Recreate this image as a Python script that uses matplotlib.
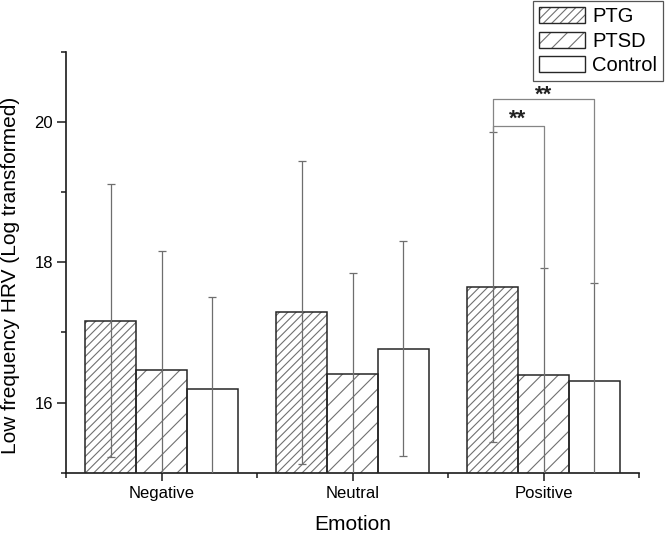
import matplotlib
matplotlib.use("Agg")
import matplotlib.pyplot as plt
import numpy as np
from matplotlib.patches import Patch
from matplotlib.ticker import FixedLocator

plt.rcParams['font.family'] = ['Liberation Sans', 'DejaVu Sans']
plt.rcParams['hatch.linewidth'] = 0.8

# ---- data ----
categories = ['Negative', 'Neutral', 'Positive']
series_names = ['PTG', 'PTSD', 'Control']
ptg = [17.17, 17.29, 17.65]
ptg_sd = [1.95, 2.16, 2.21]
ptsd = [16.47, 16.41, 16.40]
ptsd_sd = [1.69, 1.44, 1.52]
control = [16.19, 16.77, 16.31]
control_sd = [1.31, 1.53, 1.40]
y_ticks = [16, 18, 20]
# significance brackets: (category index, series a, series b, bracket height, label, label baseline)
sig_brackets = [(2, 0, 1, 19.94, '**', 19.97), (2, 0, 2, 20.33, '**', 20.31)]

values = [ptg, ptsd, control]
sds = [ptg_sd, ptsd_sd, control_sd]
hatches = ['////', '//', '']

fig = plt.figure(figsize=(6.66, 5.37), dpi=100)
ax = fig.add_axes([66/666, 1-472.7/537, (639-66)/666, (472.7-52)/537])

x = np.arange(1, len(categories) + 1)
width = 0.8 / 3
edge_dark = '#262626'
hatch_col = '#707070'
err_col = '#6e6e6e'

handles = []
for i, (vals, sd, h) in enumerate(zip(values, sds, hatches)):
    pos = x + (i - 1) * width
    ax.bar(pos, vals, width, bottom=0, color='white', edgecolor=hatch_col,
           hatch=h, linewidth=0, zorder=2)
    ax.bar(pos, vals, width, bottom=0, facecolor='none', edgecolor=edge_dark,
           linewidth=1.1, zorder=3)
    ax.errorbar(pos, vals, yerr=sd, fmt='none', ecolor=err_col, elinewidth=0.9,
                capsize=3, capthick=0.9, zorder=4)
    hp = Patch(facecolor='white', edgecolor=hatch_col, hatch=h, linewidth=0)
    op = Patch(facecolor='none', edgecolor=edge_dark, linewidth=1.0)
    handles.append((hp, op))

# significance brackets
for (c, a, b, hgt, lab, ly) in sig_brackets:
    xa = x[c] + (a - 1) * width
    xb = x[c] + (b - 1) * width
    ya = values[a][c] + sds[a][c]
    yb = values[b][c] + sds[b][c]
    ax.plot([xa, xa, xb, xb], [ya, hgt, hgt, yb], color='#858585', lw=0.9,
            zorder=5, clip_on=False)
    ax.text((xa + xb) / 2, ly, lab, ha='center', va='baseline',
            fontsize=16, fontweight='bold', color='#222222', zorder=1)

ax.set_xlim(0.5, 3.5)
ax.set_ylim(15, 21)
ax.set_xticks(x)
ax.set_xticklabels(categories, fontsize=12)
ax.xaxis.set_minor_locator(FixedLocator([0.5, 1.5, 2.5, 3.5]))
ax.set_yticks(y_ticks)
ax.set_yticklabels([str(v) for v in y_ticks], fontsize=12)
ax.yaxis.set_minor_locator(FixedLocator([15, 17, 19, 21]))

for s in ['top', 'right']:
    ax.spines[s].set_visible(False)
for s in ['left', 'bottom']:
    ax.spines[s].set_linewidth(1.2)
    ax.spines[s].set_color('#1a1a1a')

ax.tick_params(axis='x', which='major', length=5.5, width=1.1, color='#1a1a1a', pad=4)
ax.tick_params(axis='x', which='minor', length=3.5, width=1.1, color='#1a1a1a')
ax.tick_params(axis='y', which='major', length=6.5, width=1.1, color='#1a1a1a', pad=3)
ax.tick_params(axis='y', which='minor', length=3.5, width=1.1, color='#1a1a1a')

ax.set_xlabel('Emotion', fontsize=15)
ax.xaxis.set_label_coords(0.5, -0.1)
ax.set_ylabel('Low frequency HRV (Log transformed)', fontsize=15)
ax.yaxis.set_label_coords(-0.08, 0.47)

leg = fig.legend(handles, series_names,
                 loc='upper right', bbox_to_anchor=(663/666, 1 - 1/537),
                 bbox_transform=fig.transFigure, fontsize=14.5, frameon=True,
                 fancybox=False, shadow=False, framealpha=1, edgecolor='#555555',
                 handlelength=2.3, handleheight=0.85, handletextpad=0.35,
                 labelspacing=0.28, borderpad=0.3, borderaxespad=0)
leg.get_frame().set_linewidth(0.9)

fig.savefig('out.png', dpi=100)
